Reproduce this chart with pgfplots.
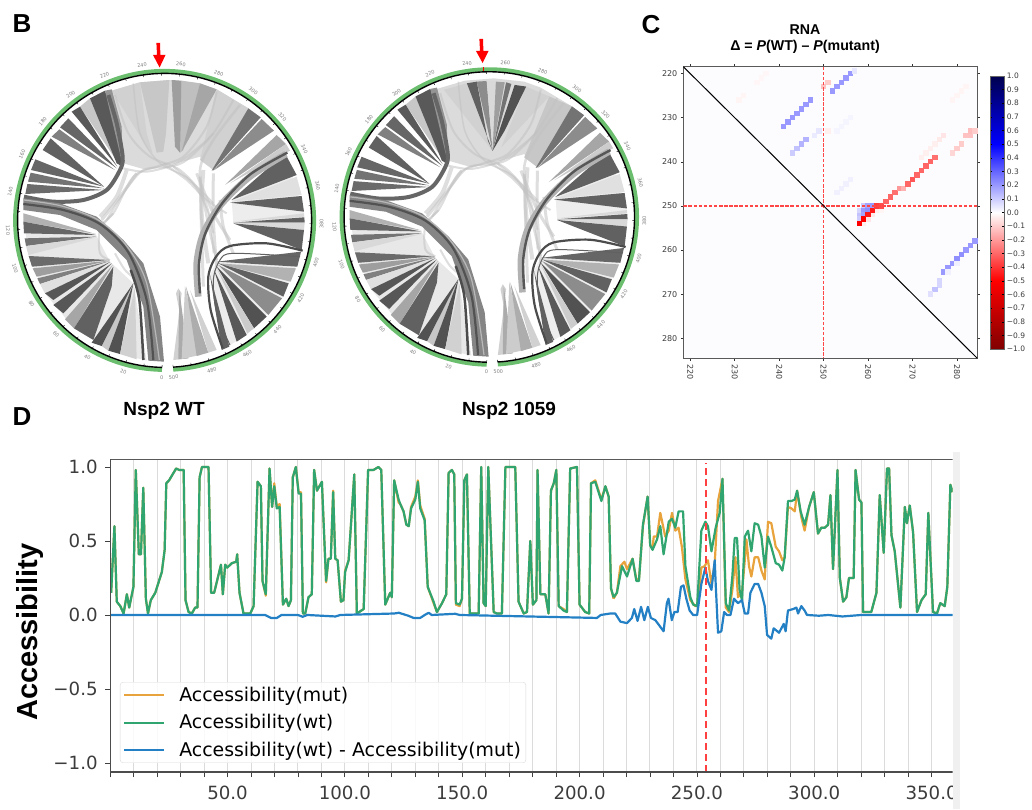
\documentclass[border=0pt]{standalone}
\usepackage{fontspec}
\setmainfont{Liberation Sans}
\newfontfamily\dvs{DejaVu Sans}
\usepackage{pgfplots}
\usepackage{pgfplotstable}
\pgfplotsset{compat=1.18}
\definecolor{ringg}{RGB}{106,190,110}
\definecolor{cmut}{RGB}{232,163,61}
\definecolor{cwt}{RGB}{48,165,112}
\definecolor{cdiff}{RGB}{36,128,196}
\definecolor{tickc}{RGB}{60,60,60}
\definecolor{dashc}{RGB}{255,70,70}
\newcommand\W[2]{\addplot[fill=black!#1,draw=none,forget plot] coordinates {#2} -- cycle;}
\newcommand\Ln[3]{\addplot[smooth,draw=black!#1,line width=#2pt,forget plot] coordinates {#3};}
\newcommand\Lt[2]{\addplot[smooth,draw=black!24,opacity=.55,line width=#1pt,forget plot] coordinates {#2};}
% chords of both circles, in a frame 3 units per pixel
\newcommand\sharedchords{%
\W{9}{(70,640)(85,765)(135,880)(222,985)(360,1062)(440,1082)(400,850)(330,785)(288,705)}
\W{7}{(905,755)(850,890)(740,1005)(665,1050)(630,825)(650,785)}
\W{7}{(855,460)(912,640)(905,750)(700,670)(695,600)}
\Lt{2}{(345,285)(385,400)(450,470)(540,510)(610,590)(640,700)}
\Lt{2}{(650,275)(620,380)(550,470)(470,500)(400,530)(340,640)(290,680)}
\Lt{2}{(700,300)(640,400)(560,480)(510,500)(430,510)(370,580)(320,660)}
\Lt{2.5}{(720,315)(640,420)(600,510)(620,650)(650,780)}
\Lt{1.5}{(400,250)(420,400)(480,490)(570,540)(625,640)(640,760)}
\Lt{4}{(380,510)(350,590)(300,650)}
\Lt{3}{(410,520)(360,590)(305,660)}
\Lt{4}{(610,510)(605,640)(625,790)}
\Lt{3}{(590,520)(640,640)(690,720)}
\Lt{2}{(520,500)(590,560)(640,610)}
\Lt{2}{(490,490)(560,540)(620,600)(680,640)}
\Lt{3}{(600,530)(605,700)(610,860)}
\Lt{3}{(640,520)(640,660)(650,800)}
\Lt{2}{(345,760)(375,810)(410,840)}
\Lt{2}{(340,640)(300,690)(300,760)(330,780)}
\Lt{3}{(660,600)(670,680)(700,760)}
\Lt{2}{(370,505)(440,515)(530,490)(610,430)(640,400)}
% left upper
\W{22}{(240,320)(270,295)(362,500)}
\W{65}{(270,295)(315,272)(345,370)(368,500)(350,490)}
\W{42}{(315,272)(335,268)(365,380)(368,495)}
\W{65}{(215,335)(240,320)(352,500)}
\W{60}{(180,382)(205,355)(350,505)}
\W{50}{(155,410)(178,388)(345,510)}
\W{62}{(128,450)(152,415)(312,560)}
\W{60}{(106,478)(93,510)(312,560)}
\W{55}{(92,518)(84,545)(312,565)}
\W{58}{(82,552)(76,582)(312,570)}
\Ln{60}{4}{(72,590)(160,605)(250,600)(320,570)(360,510)(368,470)(350,370)(325,285)}
% left lower
\W{30}{(70,640)(70,665)(288,702)}
\W{60}{(70,665)(72,700)(288,705)}
\W{55}{(74,715)(78,738)(288,710)}
\W{15}{(78,738)(85,765)(290,712)}
\W{58}{(86,768)(96,800)(328,780)}
\W{38}{(98,805)(110,830)(328,782)}
\W{50}{(112,835)(120,852)(330,783)}
\W{12}{(120,852)(135,880)(330,785)}
\W{66}{(135,880)(160,900)(330,786)}
\W{66}{(160,915)(190,940)(335,790)}
\W{35}{(195,958)(222,985)(338,795)}
\W{62}{(222,985)(280,1020)(335,860)(340,800)}
\W{22}{(305,1038)(325,1052)(400,850)}
\W{68}{(275,1028)(305,1038)(400,850)}
\W{68}{(325,1052)(360,1062)(400,850)}
\W{18}{(360,1062)(410,1078)(405,860)}
% big left arc
\W{48}{(70,595)(180,610)(290,650)(370,720)(430,790)(480,950)(492,1085)(445,1082)(430,920)(380,780)(290,690)(180,645)(70,630)}
\Ln{68}{2.2}{(70,612)(190,630)(300,672)(385,757)(440,900)(460,1080)}
\Ln{28}{1.2}{(72,600)(185,618)(295,660)(378,735)(440,850)(478,1080)}
\Ln{70}{2.5}{(392,810)(418,900)(430,1080)}
% right upper
\W{55}{(745,325)(782,352)(640,510)(635,512)}
\W{45}{(785,357)(822,392)(640,512)}
\W{35}{(830,405)(858,432)(675,555)}
\W{20}{(858,432)(870,452)(690,550)}
\W{62}{(855,460)(890,525)(695,600)}
\W{12}{(890,530)(905,585)(695,605)}
\W{62}{(905,588)(912,635)(690,608)}
\W{15}{(912,640)(913,650)(700,665)}
\W{62}{(913,652)(914,668)(700,668)}
\W{15}{(914,668)(912,690)(700,668)}
\W{62}{(912,690)(905,750)(700,670)}
% right lower
\W{60}{(903,755)(892,800)(652,785)}
\W{30}{(888,805)(872,845)(652,790)}
\W{62}{(866,850)(850,890)(655,790)}
\W{45}{(846,895)(805,945)(655,795)}
\W{68}{(800,950)(762,985)(650,800)}
\W{20}{(762,985)(742,1000)(650,805)}
\W{65}{(740,1005)(710,1025)(642,810)}
\W{62}{(688,1040)(665,1050)(630,825)}
\Ln{70}{2.2}{(908,752)(800,730)(690,738)(648,770)(625,830)(632,930)(668,1045)}
\Ln{62}{1}{(900,770)(700,760)(660,780)(640,840)(650,940)(690,1035)}
% bottom light hairpins
\W{18}{(520,1080)(565,1075)(528,880)(535,865)(545,880)}
\W{33}{(535,1078)(565,1075)(538,870)}
\W{20}{(545,1077)(600,1065)(555,858)}
\W{32}{(590,1068)(625,1058)(558,860)}
\W{18}{(625,1058)(650,1050)(570,870)}
% right big arc
\Ln{30}{6.5}{(858,462)(750,530)(662,615)(610,700)(590,790)(595,890)}
\Ln{66}{2.4}{(862,458)(752,522)(668,608)(616,700)(597,790)(600,880)}
}
\newcommand\topback{\W{14}{(335,272)(420,247)(508,240)(600,250)(650,268)(745,325)(690,440)(640,510)(600,470)(530,490)(440,510)(370,490)}}
\newcommand\topA{%
\topback
\W{18}{(335,272)(420,247)(440,400)(458,460)(440,440)}
\W{22}{(420,247)(508,240)(498,400)(490,455)(470,458)}
\W{38}{(515,240)(545,242)(545,440)(540,458)(525,440)}
\W{25}{(545,242)(600,250)(550,450)(540,458)}
\W{35}{(600,250)(650,268)(545,455)}
\W{18}{(650,268)(745,325)(640,510)(600,480)}
}
\newcommand\topB{%
\topback
\W{18}{(356,275)(426,255)(504,460)}
\W{18}{(606,265)(676,295)(530,450)}
\W{62}{(426,255)(456,250)(490,430)(504,460)}
\W{45}{(456,250)(486,248)(504,460)}
\W{15}{(486,248)(514,250)(504,460)}
\W{38}{(514,250)(541,252)(504,460)}
\W{55}{(545,252)(561,257)(504,460)}
\W{68}{(571,260)(606,265)(540,400)(504,460)}
\W{22}{(676,295)(745,325)(640,510)(600,480)}
}
\newcommand\rings[3]{% cx cy scale
\begin{scope}[shift={(#1,#2)},scale=#3]
\draw[ringg,line width=4pt] (269:149.5) arc[start angle=269,end angle=-86.7,radius=149.5];
\draw[black,line width=1.4pt] (269:147) arc[start angle=269,end angle=-86.7,radius=147];
\foreach \p in {0,10,...,500}{\pgfmathsetmacro\a{269-0.7114*\p}\draw[black,line width=.4pt] (\a:147) -- (\a:144.8);}
\foreach \p in {0,20,...,500}{\pgfmathsetmacro\a{269-0.7114*\p}
 \pgfmathsetmacro\r{(\a>=0 && \a<=180)?\a-90:\a+90}
 \node[rotate=\r,text=black!50,font=\dvs\fontsize{5}{6}\selectfont,inner sep=0pt] at (\a:157) {\p};}
\end{scope}}
\pgfplotstableread{
x wt mut
0.4 .15 .15
1.8 .60 .60
2.8 .09 .09
4.3 .06 .06
5.7 .01 .01
7.1 .14 .14
8.1 .05 .05
9.9 .19 .19
10.9 .98 .98
12.2 .41 .41
13.1 .41 .41
14.1 .86 .86
15.2 .11 .11
16.1 .01 .01
17.3 .10 .10
19.2 .15 .15
22 .29 .29
23.2 .44 .44
23.9 .89 .89
25.1 .91 .91
28.1 .99 .99
29.4 .98 .98
31.3 .98 .98
32.1 .10 .10
33.4 .02 .02
34.8 .01 .01
36.2 .05 .05
37.2 .05 .05
38.1 .93 .93
39.1 1.0 1.0
41.9 1.0 1.0
43 .15 .15
44.3 .15 .15
47.2 .34 .34
48 .14 .14
49 .34 .34
49.9 .32 .32
51.8 .35 .35
53.7 .36 .36
54.1 .41 .41
55.1 .15 .15
56.8 .01 .01
59.7 .01 .01
61.1 .06 .06
62.8 .90 .90
64.2 .87 .87
64.9 .23 .23
66.3 .14 .13
67.9 .99 .99
69 .73 .73
69.9 .87 .89
71 .72 .73
72.2 .73 .75
73.6 .07 .07
75 .11 .11
76 .06 .06
77 .10 .10
77.8 .93 .93
79.1 1.0 1.0
80.3 .82 .83
81.3 .82 .83
82.1 .01 .01
83.1 .01 .01
84.5 .12 .12
85.9 .14 .14
86.9 .98 .98
88.1 .84 .84
90.2 .90 .90
92 .23 .22
93 .38 .38
94 .38 .38
95 .83 .84
95.9 .38 .38
96.9 .37 .37
98.3 .09 .09
99.4 .10 .10
100.1 .29 .30
101.6 .37 .37
104 .95 .95
105.1 .01 .01
108 .04 .04
109.9 .98 .98
112.2 .98 .98
114.3 1.0 1.0
115.5 .98 .98
117.2 .07 .07
119.3 .15 .15
120 .12 .12
121 .91 .91
122.9 .78 .76
123.6 .75 .75
125 .70 .70
126.2 .61 .61
127.2 .60 .60
128.2 .72 .73
130 .78 .80
131.1 .90 .91
132.1 .72 .74
134 .64 .65
135.3 .19 .19
137.8 .09 .08
139.2 .02 .02
141.4 .08 .08
143.2 .14 .14
144.2 .96 .96
145.6 .98 .98
146.6 .95 .95
147.3 .08 .07
148.9 .07 .06
149.9 .11 .11
150.9 .91 .91
152 .95 .95
153.2 .01 .01
157 .01 .01
158.1 1.0 1.0
159.1 .08 .08
160 .06 .06
161.1 1.0 1.0
163.4 .02 .02
164.8 .01 .01
166.9 .01 .01
168.4 1.0 1.0
172.6 1.0 1.0
174 .09 .09
176.2 .01 .01
177.6 .02 .02
179 .50 .50
180.1 .07 .07
181.6 .10 .10
182.1 .98 .98
183.3 .14 .14
185.4 .14 .14
186.8 .01 .01
187.8 .84 .84
189 .89 .89
190.1 .98 .98
191.1 .06 .06
193.2 .03 .04
194.6 .02 .02
196 .99 .99
198.9 1.0 1.0
200 .07 .07
202.4 .02 .02
204.1 .01 .01
204.9 .89 .89
206.7 .90 .91
209.3 .77 .78
211 .87 .87
212.4 .80 .80
213.4 .18 .18
214.5 .12 .11
}\tabA
\pgfplotstableread{
x wt
214.5 .12
215.9 .15
218.1 .33
220.2 .26
222.6 .38
224.2 .23
225.3 .23
227 .61
229 .80
230.1 .47
231.1 .44
233 .51
234.4 .60
235.8 .41
238 .63
239.4 .65
240.8 .59
242.2 .70
244.1 .70
245.1 .33
247.2 .12
248.4 .07
250.1 .06
251.9 .57
253.6 .63
254.7 .60
256.2 .43
258 .59
259.7 .69
260.9 .92
262.3 .08
263.7 .03
265.1 .26
266.1 .52
267.1 .52
268.2 .17
269.2 .10
270.4 .53
271.8 .57
273.2 .43
274.6 .62
276.1 .61
277.5 .53
278.9 .32
280.3 .53
281.7 .46
283.6 .35
285 .34
286.4 .30
287.4 .39
288.8 .77
290.3 .77
291.7 .78
292.7 .84
294.2 .70
295.9 .61
297.8 .73
299.8 .83
301.6 .55
303 .59
304.5 .59
305.9 .61
306.9 .81
308 .31
309.9 .98
310.9 .25
312.3 .09
313.7 .12
314.8 .25
316.8 .25
317.6 .98
319.1 .78
320.1 .76
320.8 .02
324.3 .02
326.5 .15
327.9 .81
329.6 .42
331 .99
331.9 .99
332.9 .54
334.3 .43
336.7 .05
338.6 .73
339.5 .62
340.7 .74
342.1 .56
343.8 .02
345.7 .10
347.5 .14
348.6 .69
350.6 .02
352.3 .01
353.7 .08
355.6 .06
356.7 .19
358 .88
358.9 .83
}\tabB
\pgfplotstableread{
x mut
214.5 .11
215.9 .15
217.4 .33
219.1 .36
220.2 .31
222.6 .38
224.2 .24
225.3 .24
227 .60
229 .80
230.1 .47
231.1 .45
231.6 .53
233 .53
234.4 .69
236.5 .53
238 .57
239.4 .69
240.8 .57
242.2 .59
243.6 .46
245.1 .24
247.2 .10
249.3 .06
250.1 .06
251.9 .32
253.3 .33
254.7 .37
256.2 .21
257.6 .35
259 .77
260.9 .92
262.3 .05
263.7 .02
265.1 .17
266.4 .39
267.5 .12
269.2 .15
270.4 .37
271.1 .51
272.2 .33
273.2 .26
274.6 .39
276.1 .39
277.5 .30
278.9 .24
280.3 .63
281.7 .62
283.6 .46
285 .43
286.4 .37
287.4 .39
288.8 .73
290.3 .72
291.7 .70
292.7 .84
294.5 .66
295.9 .57
297.8 .73
}\tabC
\pgfplotstableread{
x d
0 0
66 0
68.5 -.02
71 -.02
73 0
80 0
82 -.012
84 0
96 -.01
98 0
121 .01
123 .015
125 .005
127 -.005
129.3 -.02
132.1 -.02
134 0
135.7 .015
137 0
147 .008
149 0
207.4 -.02
209 0
213.1 .01
215.2 .01
217.4 -.045
220.2 -.055
222.3 -.02
223.3 .04
224.7 -.04
226.2 .055
227.6 -.035
229.1 .055
230.4 -.02
232.3 -.035
235.8 -.11
237.2 .08
237.9 .11
239.3 -.035
240.4 .02
241.8 .02
243.2 .19
244.3 .20
245.5 .11
246.9 .03
248.4 0
250.1 0
251.9 .21
253.6 .32
254.7 .23
256.2 .17
257.6 .37
258 .21
259 -.12
260.4 -.11
261.6 .02
262.8 0
264.3 0
265.8 .11
267.5 .08
269.2 .10
270.4 .01
271.8 .01
272.8 .15
274.6 .21
276.1 .21
277.5 .15
278.9 .06
279.9 -.135
281.7 -.16
282.7 -.09
285 -.12
287 -.06
287.8 -.11
288.8 .03
291 .04
292.4 .05
293.1 .01
294.5 .06
295.9 .03
296.9 0
302 -.005
306 0
312 -.01
316 -.005
320 0
359 0
}\tabD
\pgfplotstableread{
x y v
252 224 .2
253 223 .2
254 222 .2
255 221 .2
256 220 .2
257 219.4 .05
251 222 -.1
250 223 -.12
241 232 .2
242 231 .2
243 230 .2
244 229 .2
245 228 .2
246 227 .2
247 226 .2
243 238 .1
244 237 .12
245 236 .15
246 235 .15
248 234 .04
249 233 .05
251 233 -.03
253 233 .02
254 232 .02
255 231 .02
256 230 .02
253 247 .03
254 246 .03
255 245 .03
256 244 .03
258 252 .12
258 253 .1
258 251 .08
259 250 .1
259 251 .2
259 252 .18
260 250 .18
260 251 .22
261 250 .2
259 254 -.03
260 253 -.05
261 252 -.04
262 251 -.03
263 251 -.02
258 254 -.5
259 253 -.5
260 252 -.45
261 251 -.45
262 250 -.38
263 250 -.35
264 249 -.3
265 248 -.3
266 247 -.28
267 246 -.2
268 246 -.15
269 245 -.3
270 244 -.33
271 243 -.3
272 242 -.3
273 241 -.3
274 240 -.3
275 239 -.28
279 238 -.08
280 237 -.1
281 236 -.1
282 234 -.12
283 234 -.12
283 233 -.13
284 233 -.1
272 239 -.03
273 238 -.03
274 237 -.03
275 236 -.03
276 235 -.04
277 234 -.05
232 225 -.02
231 226 -.02
235 222 -.015
236 221 -.015
237 220 -.015
279 226 -.02
280 225 -.02
281 224 -.02
282 223 -.02
284 258 .2
283 259 .2
282 260 .2
281 261 .22
280 262 .22
279 263 .2
278 264 .2
277 265 .2
276 267 .08
276 268 .08
275 269 .12
274 270 .06
278 265 .03
280 263 .03
}\tabH
\begin{document}
\begin{tikzpicture}[x=1pt,y=1pt]
\path[use as bounding box] (0,0) rectangle (1032,809);
% panel letters and captions
\node[font=\bfseries\fontsize{26}{28}\selectfont,anchor=center] at (22,785) {B};
\node[font=\bfseries\fontsize{26}{28}\selectfont,anchor=center] at (651,784) {C};
\node[font=\bfseries\fontsize{26}{28}\selectfont,anchor=center] at (22,392) {D};
\node[font=\bfseries\fontsize{19}{21}\selectfont] at (164,398) {Nsp2 WT};
\node[font=\bfseries\fontsize{19}{21}\selectfont] at (509,398) {Nsp2 1059};
% panel B, left circle
\begin{axis}[at={(0pt,389pt)},anchor=south west,width=340pt,height=420pt,scale only axis,hide axis,
  xmin=0,xmax=1020,ymin=0,ymax=1260,y dir=reverse,clip=false,no markers]
\topA
\sharedchords
\end{axis}
% panel B, right circle
\begin{axis}[at={(326.6pt,394.7pt)},anchor=south west,width=335.9pt,height=415pt,scale only axis,hide axis,
  xmin=0,xmax=1020,ymin=0,ymax=1260,y dir=reverse,clip=false,no markers]
\topB
\sharedchords
\end{axis}
\rings{164.6}{588.6}{1}
\rings{489.3}{592}{0.988}
% red arrows
\fill[red] (156.4,766) -- (160,766) -- (160.4,754) -- (165.5,754) -- (159.6,741.5) -- (153,754) -- (157,754) -- cycle;
\fill[red] (479.4,770) -- (483,770) -- (483.4,758) -- (488.5,758) -- (482.6,746) -- (476,758) -- (480,758) -- cycle;
\fill[red] (482.5,742) rectangle (484,738);
% panel C
\begin{axis}[at={(683.3pt,450.7pt)},anchor=south west,width=294pt,height=291.6pt,scale only axis,
  xmin=218.45,xmax=284.55,ymin=218.45,ymax=284.55,y dir=reverse,axis on top,
  axis background/.style={fill=blue!1},
  axis line style={black!65,line width=.7pt},
  tick pos=both,tick align=outside,major tick length=2.5pt,tick style={black!80,line width=.5pt},
  xtick={220,230,...,280},ytick={220,230,...,280},xticklabel pos=bottom,yticklabel pos=left,
  x tick label style={rotate=-90,anchor=west,font=\dvs\fontsize{8}{9}\selectfont,text=tickc},
  y tick label style={font=\dvs\fontsize{8}{9}\selectfont,text=tickc},
  /pgf/number format/assume math mode=true,
  /pgf/number format/1000 sep={},
  colormap={seismicr}{rgb255=(128,0,0) rgb255=(255,0,0) rgb255=(255,255,255) rgb255=(0,0,255) rgb255=(0,0,77)},
  point meta min=-1,point meta max=1,
  colorbar,
  colorbar style={at={(1.0432,0.5)},anchor=west,width=14.3pt,height=273.3pt,scale only axis,
    ytick={-1,-.9,-.8,-.7,-.6,-.5,-.4,-.3,-.2,-.1,0,.1,.2,.3,.4,.5,.6,.7,.8,.9,1},
    yticklabels={−1.0,−0.9,−0.8,−0.7,−0.6,−0.5,−0.4,−0.3,−0.2,−0.1,0.0,0.1,0.2,0.3,0.4,0.5,0.6,0.7,0.8,0.9,1.0},
    y tick label style={font=\dvs\fontsize{7.5}{8}\selectfont,text=tickc,xshift=-1pt},
    major tick length=2pt,tick style={black,line width=.4pt},axis line style={black!60,line width=.4pt}},
  clip=true]
\addplot[scatter,only marks,scatter src=explicit,mark=square*,mark size=2.2pt,
  scatter/use mapped color={draw=mapped color,fill=mapped color},mark options={line width=0pt}]
  table[x=x,y=y,meta=v] {\tabH};
\end{axis}
% dashed guides and diagonal of panel C, over the cells
\begin{axis}[at={(683.3pt,450.7pt)},anchor=south west,width=294pt,height=291.6pt,scale only axis,hide axis,
  xmin=218.45,xmax=284.55,ymin=218.45,ymax=284.55,y dir=reverse,no markers,clip=true]
\addplot[draw=dashc,dash pattern=on 3.5pt off 1.6pt,line width=1.3pt,forget plot] coordinates {(250,218.45)(250,284.55)};
\addplot[draw=dashc,dash pattern=on 3.5pt off 1.6pt,line width=1.3pt,forget plot] coordinates {(218.45,250)(284.55,250)};
\addplot[draw=black,line width=1pt,forget plot] coordinates {(218.45,218.45)(284.55,284.55)};
\end{axis}
\node[font=\bfseries\fontsize{14.2}{16}\selectfont] at (805,779) {RNA};
\node[font=\bfseries\fontsize{14.2}{16}\selectfont] at (805,762) {Δ = \textit{P}(WT) – \textit{P}(mutant)};
% panel D
\begin{axis}[at={(110.2pt,37pt)},anchor=south west,width=842.5pt,height=313pt,scale only axis,
  xmin=0,xmax=359,ymin=-1.061,ymax=1.054,
  axis line style={draw=none},
  tick align=outside,
  xtick={50,100,...,350},minor xtick={0,10,...,350},ytick={-1,-.5,0,.5,1},
  yticklabels={−1.0,−0.5,0.0,0.5,1.0},
  xticklabel style={yshift=-5pt,/pgf/number format/.cd,fixed,fixed zerofill,precision=1,1000 sep={},assume math mode=true},
  yticklabel style={xshift=-4pt},
  tick label style={font=\dvs\fontsize{18.2}{20}\selectfont,text=tickc},
  major tick length=5pt,minor tick length=5pt,
  tick style={black!75,line width=.8pt},
  xmajorgrids,xminorgrids,grid style={black!14,line width=1pt},
  tick pos=left,
  legend style={at={(0.0116,0.0288)},anchor=south west,font=\dvs\fontsize{18.9}{21}\selectfont,
    draw=black!15,rounded corners=3pt,fill=white,fill opacity=.85,text opacity=1,
    row sep=7.5pt,inner xsep=3pt,inner ysep=3pt,legend cell align=left},
  legend image code/.code={\draw[#1,line width=2pt] (0pt,0pt) -- (40pt,0pt);\path (52pt,0pt);},
  no markers,clip=true,line join=round]
\addplot[cmut,line width=2.2pt] table[x=x,y=mut] {\tabA};
\addlegendentry{Accessibility(mut)}
\addplot[cmut,line width=2.2pt,forget plot] table[x=x,y=mut] {\tabC};
\addplot[cmut,line width=2.2pt,forget plot,restrict x to domain=297.8:360] table[x=x,y=wt] {\tabB};
\addplot[cwt,line width=2.2pt] table[x=x,y=wt] {\tabA};
\addlegendentry{Accessibility(wt)}
\addplot[cwt,line width=2.2pt,forget plot] table[x=x,y=wt] {\tabB};
\addplot[cdiff,line width=2.2pt] table[x=x,y=d] {\tabD};
\addlegendentry{Accessibility(wt) - Accessibility(mut)}
\addplot[draw=red!75!white,dashed,dash pattern=on 7pt off 4pt,line width=2pt,forget plot] coordinates {(254,-1.061)(254,1.03)};
\draw[black!65,line width=1.8pt] (rel axis cs:0,1) -- (rel axis cs:1,1);
\draw[black!70,line width=1.2pt] (rel axis cs:0,0) -- (rel axis cs:0,1);
\draw[black!70,line width=1.2pt] (rel axis cs:0,0) -- (rel axis cs:1,0);
\end{axis}
\fill[black!6] (953,0) rectangle (960,356.5);
\node[rotate=90,font=\bfseries\fontsize{29}{31}\selectfont] at (30,177) {Accessibility};
\end{tikzpicture}
\end{document}
